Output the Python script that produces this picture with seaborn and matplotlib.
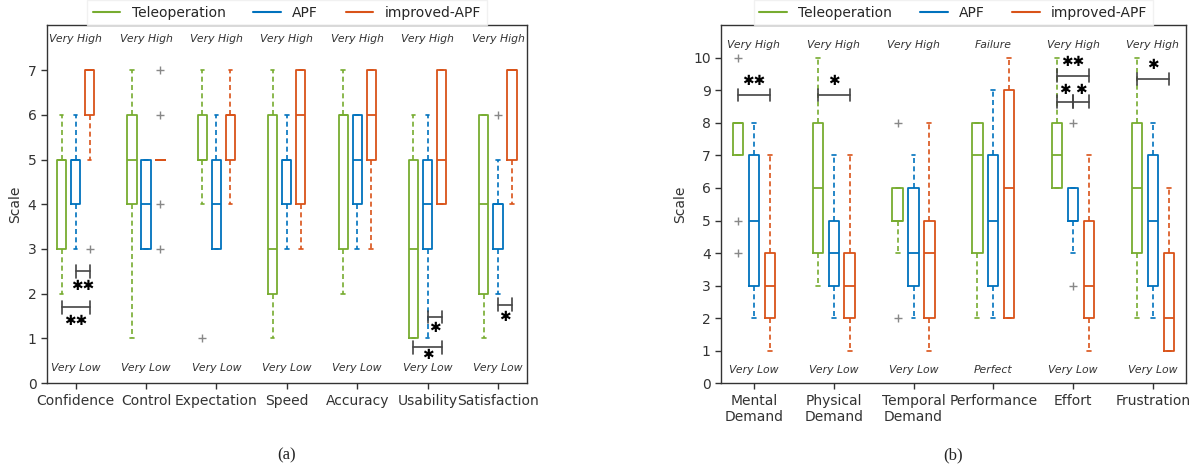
import matplotlib
matplotlib.use('Agg')
import matplotlib.pyplot as plt
from matplotlib.lines import Line2D
import seaborn as sns
import numpy as np

# ---- data: [whisker low, q1, median, q3, whisker high] ----
series_names = ['Teleoperation', 'APF', 'improved-APF']
series_colors = ['#77AC30', '#0072BD', '#D95319']

a_categories = ['Confidence', 'Control', 'Expectation', 'Speed',
                'Accuracy', 'Usability', 'Satisfaction']
a_tele = [[2, 3, 5, 5, 6], [1, 4, 5, 6, 7], [4, 5, 5, 6, 7], [1, 2, 3, 6, 7],
          [2, 3, 6, 6, 7], [1, 1, 3, 5, 6], [1, 2, 4, 6, 6]]
a_apf = [[3, 4, 5, 5, 6], [3, 3, 4, 5, 5], [3, 3, 4, 5, 6], [3, 4, 5, 5, 6],
         [3, 4, 5, 6, 6], [1, 3, 4, 5, 6], [2, 3, 4, 4, 5]]
a_iapf = [[5, 6, 7, 7, 7], [5, 5, 5, 5, 5], [4, 5, 6, 6, 7], [3, 4, 6, 7, 7],
          [3, 5, 6, 7, 7], [4, 4, 5, 7, 7], [4, 5, 7, 7, 7]]
a_tele_fliers = [[], [], [1], [], [], [], []]
a_apf_fliers = [[], [], [], [], [], [], [6]]
a_iapf_fliers = [[3], [3, 4, 6, 7], [], [], [], [], []]
a_top_labels = ['Very High'] * 7
a_bottom_labels = ['Very Low'] * 7
# (category index, from series, to series, bracket y, label, label y)
a_sig = [(0, 1, 2, 2.5, '\u2731\u2731', 2.17),
         (0, 0, 2, 1.7, '\u2731\u2731', 1.4),
         (5, 1, 2, 1.48, '\u2731', 1.23),
         (5, 0, 2, 0.8, '\u2731', 0.62),
         (6, 1, 2, 1.75, '\u2731', 1.47)]

b_categories = ['Mental\nDemand', 'Physical\nDemand', 'Temporal\nDemand',
                'Performance', 'Effort', 'Frustration']
b_tele = [[7, 7, 8, 8, 8], [3, 4, 6, 8, 10], [4, 5, 5, 6, 6], [2, 4, 7, 8, 8],
          [6, 6, 7, 8, 10], [2, 4, 6, 8, 10]]
b_apf = [[2, 3, 5, 7, 8], [2, 3, 4, 5, 7], [2, 3, 4, 6, 7], [2, 3, 5, 7, 9],
         [4, 5, 5, 6, 6], [2, 3, 5, 7, 8]]
b_iapf = [[1, 2, 3, 4, 7], [1, 2, 3, 4, 7], [1, 2, 4, 5, 8], [2, 2, 6, 9, 10],
          [1, 2, 3, 5, 7], [1, 1, 2, 4, 6]]
b_tele_fliers = [[4, 5, 10], [], [2, 8], [], [], []]
b_apf_fliers = [[], [], [], [], [3, 8], []]
b_iapf_fliers = [[], [], [], [], [], []]
b_top_labels = ['Very High', 'Very High', 'Very High', 'Failure', 'Very High', 'Very High']
b_bottom_labels = ['Very Low', 'Very Low', 'Very Low', 'Perfect', 'Very Low', 'Very Low']
b_sig = [(0, 0, 2, 8.86, '\u2731\u2731', 9.28),
         (1, 0, 2, 8.86, '\u2731', 9.28),
         (4, 0, 2, 9.45, '\u2731\u2731', 9.87),
         (4, 0, 1, 8.65, '\u2731', 9.02),
         (4, 1, 2, 8.65, '\u2731', 9.02),
         (5, 0, 2, 9.35, '\u2731', 9.78)]

OFFSETS = [-0.2, 0.0, 0.2]
TEXT = '#333333'

sns.set_style('ticks')
plt.rcParams['font.family'] = ['DejaVu Sans']


def to_stats(summary, fliers):
    out = []
    for s, f in zip(summary, fliers):
        out.append(dict(whislo=s[0], q1=s[1], med=s[2], q3=s[3], whishi=s[4], fliers=f))
    return out


def draw_panel(ax, categories, series, fliers, top_labels, bottom_labels,
               sig, ymax, yticks, top_y, bottom_y):
    base = np.arange(1, len(categories) + 1)
    for i, (summary, fl) in enumerate(zip(series, fliers)):
        col = series_colors[i]
        ax.bxp(to_stats(summary, fl), positions=base + OFFSETS[i], widths=0.13,
               capwidths=0.05, manage_ticks=False,
               boxprops=dict(color=col, linewidth=1.3),
               medianprops=dict(color=col, linewidth=1.3),
               whiskerprops=dict(color=col, linewidth=1.2, linestyle=(0, (3, 2))),
               capprops=dict(color=col, linewidth=1.2),
               flierprops=dict(marker='+', markeredgecolor='#888888',
                               markersize=6, markeredgewidth=1.0))

    for x, t, b in zip(base, top_labels, bottom_labels):
        ax.text(x, top_y, t, ha='center', va='center', style='italic',
                fontsize=7.8, color=TEXT)
        ax.text(x, bottom_y, b, ha='center', va='center', style='italic',
                fontsize=7.8, color=TEXT)

    h = ymax * 0.018
    for cat, s1, s2, y, lab, ly in sig:
        x1 = base[cat] + OFFSETS[s1]
        x2 = base[cat] + OFFSETS[s2]
        ax.plot([x1, x2], [y, y], color='#444444', lw=1.2)
        ax.plot([x1, x1], [y - h, y + h], color='#444444', lw=1.2)
        ax.plot([x2, x2], [y - h, y + h], color='#444444', lw=1.2)
        ax.text((x1 + x2) / 2, ly, lab, ha='center', va='center',
                fontsize=10, color='black')

    ax.set_xlim(0.59, len(categories) + 0.41)
    ax.set_ylim(0, ymax)
    ax.set_xticks(base)
    ax.set_xticklabels(categories, fontsize=10, color=TEXT)
    ax.set_yticks(yticks)
    ax.set_yticklabels([str(v) for v in yticks], fontsize=10, color=TEXT)
    ax.set_ylabel('Scale', fontsize=10, color=TEXT)
    ax.tick_params(color=TEXT, length=4, width=1)
    for sp in ax.spines.values():
        sp.set_color(TEXT)
        sp.set_linewidth(1.0)

    handles = [Line2D([0], [0], color=c, lw=1.5) for c in series_colors]
    ax.legend(handles, series_names, loc='lower center', bbox_to_anchor=(0.5, 1.0),
              ncol=3, fontsize=10, frameon=True, edgecolor='#eeeeee',
              fancybox=False, borderaxespad=0.0, columnspacing=2.0,
              handlelength=2.0)


fig = plt.figure(figsize=(12, 4.69), dpi=100)
ax_a = fig.add_axes([0.039, 0.183, 0.40, 0.763])
ax_b = fig.add_axes([0.601, 0.183, 0.387, 0.763])

draw_panel(ax_a, a_categories, [a_tele, a_apf, a_iapf],
           [a_tele_fliers, a_apf_fliers, a_iapf_fliers],
           a_top_labels, a_bottom_labels, a_sig, 8, range(0, 8), 7.7, 0.35)
draw_panel(ax_b, b_categories, [b_tele, b_apf, b_iapf],
           [b_tele_fliers, b_apf_fliers, b_iapf_fliers],
           b_top_labels, b_bottom_labels, b_sig, 11, range(0, 11), 10.4, 0.4)

fig.text(0.239, 0.03, '(a)', ha='center', va='center', fontsize=12,
         family=['Liberation Serif', 'DejaVu Serif'])
fig.text(0.794, 0.03, '(b)', ha='center', va='center', fontsize=12,
         family=['Liberation Serif', 'DejaVu Serif'])

fig.savefig('out.png', dpi=100)
